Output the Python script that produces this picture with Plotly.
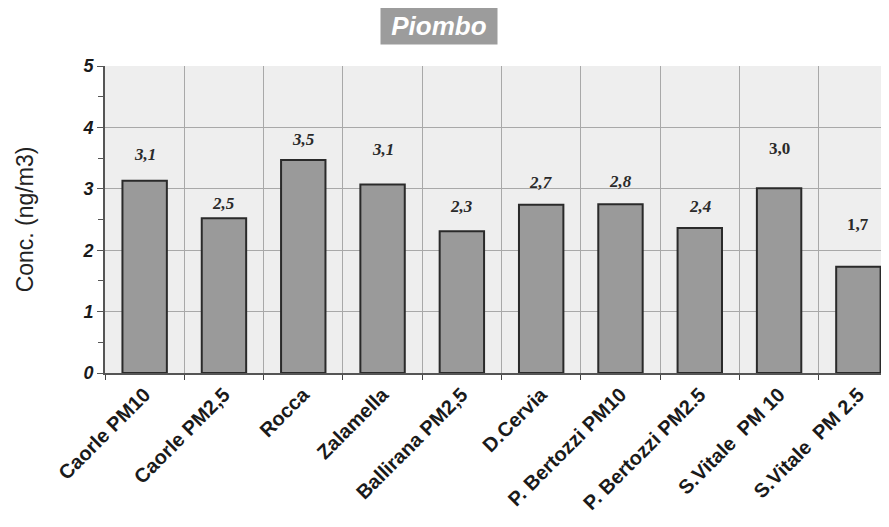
import plotly.graph_objects as go

categories = ["Caorle PM10", "Caorle PM2,5", "Rocca", "Zalamella", "Ballirana PM2,5",
              "D.Cervia", "P. Bertozzi PM10", "P. Bertozzi PM2.5", "S.Vitale  PM 10", "S.Vitale  PM 2.5"]
values = [3.13, 2.52, 3.47, 3.07, 2.31, 2.74, 2.75, 2.36, 3.01, 1.73]
labels = ["3,1", "2,5", "3,5", "3,1", "2,3", "2,7", "2,8", "2,4", "3,0", "1,7"]
label_shift = [23, 11, 17, 32, 21, 19, 19, 18, 36, 39]
label_italic = [True, True, True, True, True, True, True, True, False, False]
y_ticks = [0, 1, 2, 3, 4, 5]

fig = go.Figure()
fig.add_trace(go.Bar(
    x=categories, y=values,
    marker=dict(color="#9a9a9a", line=dict(color="#2a2a2a", width=2)),
    width=0.56,
))

for c, v, t, s, it in zip(categories, values, labels, label_shift, label_italic):
    fig.add_annotation(
        x=c, y=v, text=t, showarrow=False, yanchor="bottom", yshift=s - 8,
        font=dict(family="Liberation Serif, DejaVu Serif, serif", size=17, color="#2a2a2a",
                  weight="bold", style="italic" if it else "normal"),
    )

fig.add_annotation(
    xref="paper", yref="paper", x=0.426, y=1.13, text=" Piombo ", showarrow=False,
    font=dict(family="Liberation Sans, Arial, sans-serif", size=26, color="white",
              weight="bold", style="italic"),
    bgcolor="#9c9c9c", borderpad=3, xanchor="center", yanchor="middle",
)

# page body has an 8px margin; compensate so the plot sits where the reference has it
fig.update_layout(
    width=881, height=519,
    margin=dict(l=97, r=0, t=58, b=154, autoexpand=False),
    paper_bgcolor="white", plot_bgcolor="#eeeeee",
    showlegend=False, bargap=0.44,
)
fig.update_xaxes(
    type="category", range=[-0.5, 9.386], tickson="boundaries", automargin=False,
    showgrid=True, gridcolor="#a8a8a8", gridwidth=1,
    ticks="outside", ticklen=5, tickcolor="#444",
    showline=True, linecolor="#555", linewidth=2,
    tickangle=-45,
    tickfont=dict(family="Liberation Sans, Arial, sans-serif", size=20, color="#1a1a1a", weight="bold"),
)
fig.update_yaxes(
    range=[0, 5], tickvals=y_ticks, showgrid=True, gridcolor="#a8a8a8", gridwidth=1,
    automargin=False,
    ticks="outside", ticklen=6, tickcolor="#555",
    minor=dict(dtick=0.5, ticks="outside", ticklen=5, tickcolor="#555", showgrid=False),
    showline=True, linecolor="#555", linewidth=2, zeroline=False,
    tickfont=dict(family="Liberation Sans, Arial, sans-serif", size=18, color="#1a1a1a",
                  weight="bold", style="italic"),
    title=dict(text="Conc. (ng/m3)", standoff=42,
               font=dict(family="Liberation Sans, Arial, sans-serif", size=23, color="#222")),
)

fig.write_html("out.html")
